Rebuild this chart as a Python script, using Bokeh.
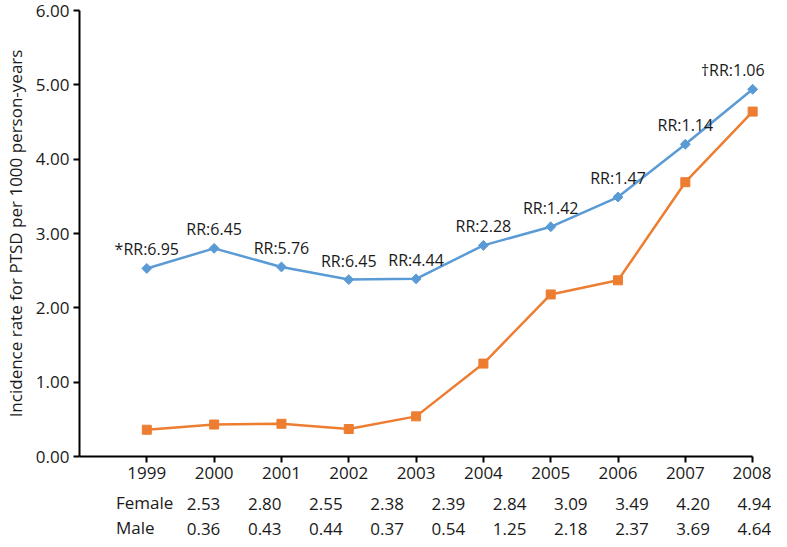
import math
from bokeh.plotting import figure
from bokeh.models import (Range1d, FixedTicker, PrintfTickFormatter, ColumnDataSource,
                          LabelSet, Legend, LegendItem)
from bokeh.layouts import column
from bokeh.embed import file_html
from bokeh.resources import INLINE
from bokeh.core.properties import value

# ---- data ----
years = [1999, 2000, 2001, 2002, 2003, 2004, 2005, 2006, 2007, 2008]
female = [2.53, 2.80, 2.55, 2.38, 2.39, 2.84, 3.09, 3.49, 4.20, 4.94]
male = [0.36, 0.43, 0.44, 0.37, 0.54, 1.25, 2.18, 2.37, 3.69, 4.64]
rr_labels = ["*RR:6.95", "RR:6.45", "RR:5.76", "RR:6.45", "RR:4.44",
             "RR:2.28", "RR:1.42", "RR:1.47", "RR:1.14", "\u2020RR:1.06"]
y_ticks = [0, 1, 2, 3, 4, 5, 6]
series_names = ["Female", "Male"]

# ---- style ----
FONT = "Open Sans"
TXT = "#1a1a1a"
BLUE = "#5B9BD5"
ORANGE = "#ED7D31"

W = 771
LEFT = 70
X0 = years[0] - 1
X_END = years[-1] + 0.28
ppu = (W - LEFT) / (X_END - X0)
X_START_TABLE = X0 - LEFT / ppu

# ---- main chart ----
p = figure(width=W, height=486, output_backend="svg", toolbar_location=None,
           x_range=Range1d(X0, X_END), y_range=Range1d(0, 6),
           min_border_left=LEFT, min_border_right=0, min_border_top=10, min_border_bottom=30)
p.grid.visible = False
p.outline_line_color = None
p.background_fill_color = "white"
p.border_fill_color = "white"

p.line(years, female, line_color=BLUE, line_width=2.5)
p.scatter(years, female, marker="square", angle=math.pi / 4, size=7,
          fill_color=BLUE, line_color=BLUE)
p.line(years, male, line_color=ORANGE, line_width=2.5)
p.scatter(years, male, marker="square", size=9, fill_color=ORANGE, line_color=ORANGE)

src_a = ColumnDataSource(dict(x=years[:-1], y=female[:-1], t=rr_labels[:-1]))
src_b = ColumnDataSource(dict(x=years[-1:], y=female[-1:], t=rr_labels[-1:]))
p.add_layout(LabelSet(x="x", y="y", text="t", source=src_a, text_align="center",
                      text_baseline="bottom", y_offset=8, text_font=value(FONT),
                      text_font_size="16px", text_color=TXT))
p.add_layout(LabelSet(x="x", y="y", text="t", source=src_b, text_align="right",
                      text_baseline="bottom", y_offset=8, x_offset=12, text_font=value(FONT),
                      text_font_size="16px", text_color=TXT))

xa = p.xaxis[0]
xa.ticker = FixedTicker(ticks=years)
xa.bounds = (X0, years[-1])
ya = p.yaxis[0]
ya.ticker = FixedTicker(ticks=y_ticks)
ya.formatter = PrintfTickFormatter(format="%.2f")
ya.bounds = (0, 6)
ya.axis_label = "Incidence rate for PTSD per 1000 person-years"
ya.axis_label_text_font = FONT
ya.axis_label_text_font_size = "17px"
ya.axis_label_text_font_style = "normal"
ya.axis_label_text_color = TXT
ya.axis_label_standoff = 6
for ax in (xa, ya):
    ax.axis_line_color = "black"
    ax.axis_line_width = 2
    ax.major_tick_line_color = "black"
    ax.major_tick_line_width = 2
    ax.major_tick_out = 6
    ax.major_tick_in = 0
    ax.minor_tick_line_color = None
    ax.major_label_text_font = FONT
    ax.major_label_text_font_size = "17px"
    ax.major_label_text_color = TXT
    ax.major_label_standoff = 4

# ---- data table ----
t = figure(width=W, height=53, output_backend="svg", toolbar_location=None,
           x_range=Range1d(X_START_TABLE, X_END), y_range=Range1d(1.44, -0.68),
           x_axis_type=None, y_axis_type=None,
           min_border_left=0, min_border_right=0, min_border_top=0, min_border_bottom=0)
t.grid.visible = False
t.outline_line_color = None

tx = years + years
ty = [0] * len(years) + [1] * len(years)
tt = ["%.2f" % v for v in female] + ["%.2f" % v for v in male]
t.text(x="x", y="y", text="t", source=ColumnDataSource(dict(x=tx, y=ty, t=tt)),
       text_align="center", text_baseline="middle", text_font=value(FONT),
       text_font_size="17px", text_color=TXT)

lf = t.line([], [], line_color=BLUE, line_width=2.5)
mf = t.scatter([], [], marker="square", angle=math.pi / 4, size=6, fill_color=BLUE, line_color=BLUE)
lm = t.line([], [], line_color=ORANGE, line_width=2.5)
mm = t.scatter([], [], marker="square", size=8, fill_color=ORANGE, line_color=ORANGE)
leg = Legend(items=[LegendItem(label=series_names[0], renderers=[lf, mf]),
                    LegendItem(label=series_names[1], renderers=[lm, mm])],
             location="top_left", margin=4, padding=0, spacing=0,
             glyph_width=30, glyph_height=25, label_height=25, label_standoff=3,
             label_text_font=FONT, label_text_font_size="17px", label_text_color=TXT,
             border_line_color=None, background_fill_alpha=0)
t.add_layout(leg)

layout = column(p, t, spacing=0)
open("out.html", "w").write(file_html(layout, INLINE))
